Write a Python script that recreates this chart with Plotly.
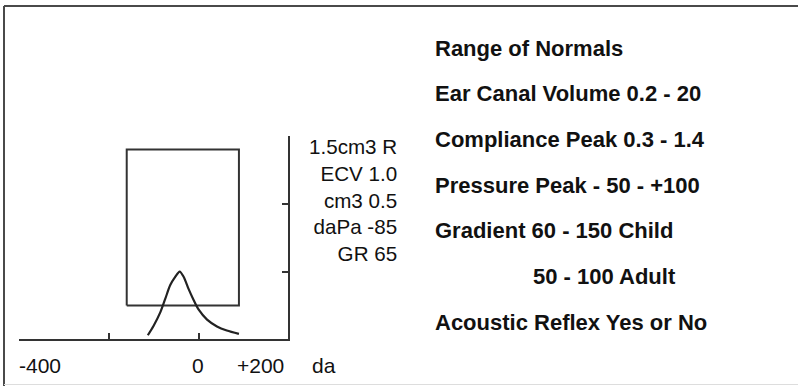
import plotly.graph_objects as go

# Tympanogram: pressure (daPa) vs compliance (cm3)
pressure = [-113, -100, -85, -74, -63, -52, -42, -33, -22, -11, 0, 19, 41, 63, 90]
compliance = [0.03, 0.10, 0.20, 0.30, 0.40, 0.46, 0.50, 0.46, 0.37, 0.29, 0.22, 0.145, 0.095, 0.065, 0.04]

# Normal region box
box_pressure = [-160, 90]
box_compliance = [0.25, 1.4]

# Axes
x_ticks = [-400, -200, 0, 200]
x_tick_labels = ["-400", "", "0", "+200"]
x_unit = "da"
y_ticks = [0.5, 1.0, 1.5]

readout_lines = ["1.5cm3 R", "ECV 1.0", "cm3 0.5", "daPa -85", "GR 65"]
normals_lines = [
    "Range of Normals",
    "Ear Canal Volume 0.2 - 20",
    "Compliance Peak 0.3 - 1.4",
    "Pressure Peak - 50 - +100",
    "Gradient 60 - 150 Child",
    "50 - 100 Adult",
    "Acoustic Reflex Yes or No",
]

W, H = 798, 386
FONT = "Liberation Sans, Arial, sans-serif"
INK = "#222222"
TEXT = "#111111"


def px_x(p):
    return p / W


def px_y(p):
    return (H - p) / H


fig = go.Figure()

bx = [box_pressure[0], box_pressure[1], box_pressure[1], box_pressure[0], box_pressure[0]]
by = [box_compliance[0], box_compliance[0], box_compliance[1], box_compliance[1], box_compliance[0]]
fig.add_trace(go.Scatter(x=bx, y=by, mode="lines",
                         line=dict(color="#333333", width=2), hoverinfo="skip"))

fig.add_trace(go.Scatter(x=pressure, y=compliance, mode="lines",
                         line=dict(color=INK, width=2.2, shape="spline", smoothing=0.8),
                         hoverinfo="skip"))

fig.update_xaxes(range=[x_ticks[0], x_ticks[-1]], domain=[px_x(19), px_x(288.3)],
                 showline=True, linecolor="#333333", linewidth=2, mirror=False,
                 ticks="inside", ticklen=6, tickwidth=2, tickcolor="#333333",
                 tickvals=x_ticks, showticklabels=False, showgrid=False, zeroline=False)
fig.update_yaxes(range=[0, 1.5], domain=[px_y(339.3), px_y(136)], side="right",
                 showline=True, linecolor="#333333", linewidth=2, mirror=False,
                 ticks="inside", ticklen=6, tickwidth=2, tickcolor="#333333",
                 tickvals=y_ticks, showticklabels=False, showgrid=False, zeroline=False)

annotations = []
# x tick labels
label_pos = [(18, "left"), None, (198.3, "center"), (285, "right")]
for lab, pos in zip(x_tick_labels, label_pos):
    if not lab:
        continue
    annotations.append(dict(x=px_x(pos[0]), y=px_y(365), xref="paper", yref="paper",
                            text=lab, showarrow=False, xanchor=pos[1], yanchor="middle",
                            borderpad=0, font=dict(family=FONT, size=21, color=TEXT)))
annotations.append(dict(x=px_x(311), y=px_y(365), xref="paper", yref="paper",
                        text=x_unit, showarrow=False, xanchor="left", yanchor="middle",
                        borderpad=0, font=dict(family=FONT, size=21, color=TEXT)))

# readout beside the graph, one right-aligned block
annotations.append(dict(x=px_x(398), y=px_y(199.5), xref="paper", yref="paper",
                        text="<br>".join(readout_lines), showarrow=False,
                        xanchor="right", align="right", yanchor="middle", borderpad=0,
                        font=dict(family=FONT, size=20.6, color=TEXT)))

# range of normals panel
normals_y = [48, 94, 139.5, 185, 230.5, 276, 322]
normals_x = [434, 434, 434, 434, 434, 532, 434]
for txt, xx, yy in zip(normals_lines, normals_x, normals_y):
    annotations.append(dict(x=px_x(xx), y=px_y(yy), xref="paper", yref="paper",
                            text="<b>" + txt + "</b>", showarrow=False,
                            xanchor="left", yanchor="middle", borderpad=0,
                            font=dict(family=FONT, size=22, color=TEXT)))

shapes = [
    dict(type="line", xref="paper", yref="paper", x0=px_x(4), x1=1.02,
         y0=px_y(6), y1=px_y(6), line=dict(color="#4a4a4a", width=2)),
    dict(type="line", xref="paper", yref="paper", x0=px_x(4), x1=px_x(4),
         y0=px_y(6), y1=px_y(386), line=dict(color="#4a4a4a", width=2)),
    dict(type="line", xref="paper", yref="paper", x0=px_x(4), x1=1.02,
         y0=px_y(384.5), y1=px_y(384.5), line=dict(color="#dddddd", width=1)),
]

fig.update_layout(width=W, height=H, autosize=False,
                  margin=dict(l=0, r=0, t=0, b=0, pad=0),
                  paper_bgcolor="white", plot_bgcolor="white",
                  showlegend=False, annotations=annotations, shapes=shapes)

fig.write_html("out.html")
